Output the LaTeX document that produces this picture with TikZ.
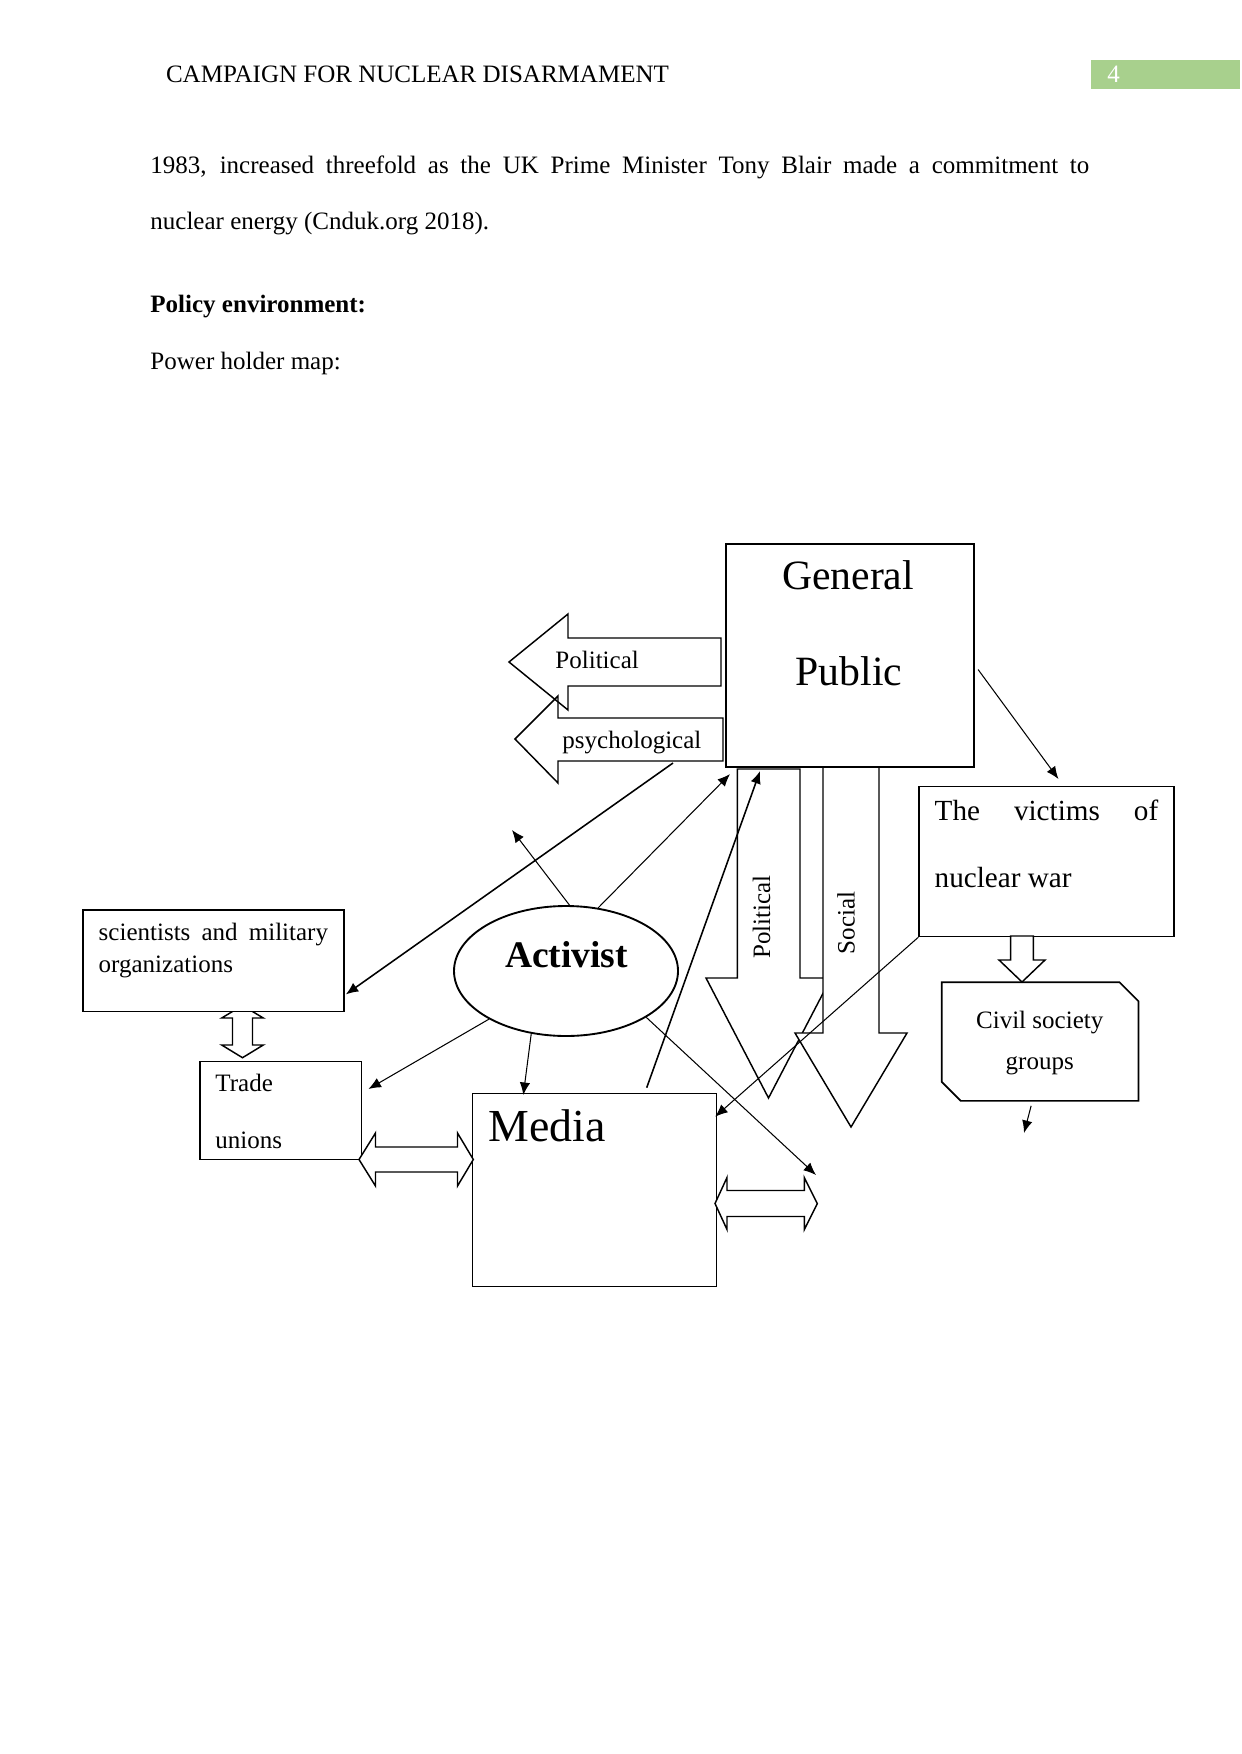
\documentclass[tikz,border=0pt]{standalone}
\usepackage{fontspec}
\setmainfont{Liberation Serif}
\usetikzlibrary{arrows.meta,calc,shapes.geometric}
\definecolor{pagegreen}{HTML}{A8D08D}
\def\pxu{0.47969pt}
\newcommand\fsz[1]{\fontsize{#1}{#1}\selectfont}
\begin{document}
\begin{tikzpicture}[x=0.47969pt,y=-0.47969pt,
  txt/.style={inner sep=0pt, anchor=base west},
  ctxt/.style={inner sep=0pt, anchor=base},
  boxn/.style={draw, line width=0.7pt, fill=white, inner sep=0pt, anchor=north west},
  blk/.style={draw, line width=0.7pt, fill=white, line join=miter},
  blkopen/.style={draw, line width=0.7pt, line join=miter},
  conn/.style={line width=0.5pt, -{Latex[length=6pt,width=5pt]}},
]
\useasboundingbox (0,0) rectangle (1241,1754);

% ---------- header and body text ----------
\node[txt] (hdr) at (165.6,83) {\fsz{12}CAMPAIGN FOR NUCLEAR DISARMAMENT};
\node[fill=pagegreen, inner sep=0pt, anchor=north west, minimum width={149*\pxu}, minimum height={29*\pxu}] (pg) at (1091,60) {};
\node[txt, text=white] (pgn) at (1107,83) {\fsz{12}4};

\node[txt] (l1) at (150,174) {\fsz{12}\makebox[450.4pt][s]{1983, increased threefold as the UK Prime Minister Tony Blair made a commitment to}};
\node[txt] (l2) at (150,230) {\fsz{12}nuclear energy (Cnduk.org 2018).};
\node[txt] (l3) at (150,312.7) {\fsz{12}\bfseries Policy environment:};
\node[txt] (l4) at (150,370) {\fsz{12}Power holder map:};

% ---------- vertical double arrow scientists <-> trade unions ----------
\draw[blk] (232.5,1018) -- (221.7,1018) -- (242.5,1005.5) -- (263.3,1018) -- (252.5,1018)
  -- (252.5,1045) -- (263.3,1045) -- (242.5,1057.7) -- (221.7,1045) -- (232.5,1045) -- cycle;

% ---------- scientists box ----------
\node[boxn, minimum width={261*\pxu}, minimum height={101.7*\pxu}] (sci) at (82.3,909.3) {};
\node[txt] at (98.3,940) {\fsz{12}\makebox[110.0pt][s]{scientists and military}};
\node[txt] at (98.3,972.7) {\fsz{12}organizations};

% ---------- vertical block arrows ----------
\draw[blk] (737.3,769) -- (800,769) -- (800,978) -- (831,978) -- (768.5,1098) -- (706,978) -- (737.3,978) -- cycle;
\draw[blk] (823,767) -- (879,767) -- (879,1033) -- (907,1033) -- (851,1127) -- (795,1033) -- (823,1033) -- cycle;
\node[inner sep=0pt, rotate=90] (tpol) at (761.5,917) {\fsz{12}Political};
\node[inner sep=0pt, rotate=90] (tsoc) at (846,923) {\fsz{12}Social};

% ---------- General Public ----------
\node[boxn, line width=1pt, minimum width={248*\pxu}, minimum height={223*\pxu}] (gp) at (725,543) {};
\node[ctxt] at (848,589) {\fsz{20}General};
\node[ctxt] at (849,685) {\fsz{20}Public};

% ---------- left block arrows ----------
\draw[blkopen] (721,638) -- (568,638) -- (568,614) -- (509,662) -- (568,710) -- (568,686) -- (721,686) -- cycle;
\draw[blkopen] (723,718) -- (558,718) -- (558,696) -- (515,739) -- (558,783) -- (558,761) -- (723,761) -- cycle;
\node[txt] at (555,668.3) {\fsz{12}Political};
\node[txt] at (562,748.3) {\fsz{12}psychological};

% ---------- victims ----------
\node[boxn, line width=0.6pt, minimum width={255*\pxu}, minimum height={150*\pxu}] (vic) at (918.3,786) {};
\node[txt] at (934.3,820.7) {\fsz{14}\makebox[107.2pt][s]{The victims of}};
\node[txt] at (934.3,887.3) {\fsz{14}nuclear war};
\draw[blk] (1010.7,936) -- (1010.7,960) -- (999,960) -- (1022,982) -- (1045,960) -- (1033.3,960) -- (1033.3,936) -- cycle;

% ---------- civil society ----------
\node[inner sep=0pt, anchor=north west, minimum width={196*\pxu}, minimum height={117.7*\pxu}] (civ) at (941.7,982.3) {};
\draw[line width=0.8pt, line join=miter] (civ.north west) -- ($(civ.north east)+(-19,0)$) -- ($(civ.north east)+(0,19)$)
  -- (civ.south east) -- ($(civ.south west)+(19,0)$) -- ($(civ.south west)+(0,-19)$) -- cycle;
\node[ctxt] at (1039.7,1028.3) {\fsz{12}Civil society};
\node[ctxt] at (1039.7,1069) {\fsz{12}groups};

% ---------- trade unions ----------
\node[boxn, minimum width={161.7*\pxu}, minimum height={98*\pxu}] (trade) at (199.3,1061) {};
\node[txt] at (215,1091.7) {\fsz{12}Trade};
\node[txt] at (215,1148.3) {\fsz{12}unions};

% ---------- media ----------
\node[boxn, minimum width={244*\pxu}, minimum height={193.3*\pxu}] (media) at (471.7,1092.7) {};
\node[txt] at (488,1141.7) {\fsz{22}Media};

% ---------- horizontal double arrows ----------
\draw[blk] (359,1159.5) -- (375.5,1133) -- (375.5,1147) -- (457.5,1147) -- (457.5,1133) -- (473.3,1159.5)
  -- (457.5,1186) -- (457.5,1172) -- (375.5,1172) -- (375.5,1186) -- cycle;
\draw[blk] (715,1203.5) -- (727,1177.5) -- (727,1190.5) -- (804.3,1190.5) -- (804.3,1177.5) -- (817.3,1203.5)
  -- (804.3,1229.5) -- (804.3,1216.5) -- (727,1216.5) -- (727,1229.5) -- cycle;

% ---------- activist ----------
\node[draw, ellipse, line width=0.9pt, fill=white, inner sep=0pt, minimum width={224*\pxu}, minimum height={130*\pxu}] (act) at (566,971) {};
\node[ctxt] at (566.5,967) {\fsz{18}\bfseries Activist};

% ---------- connectors ----------
\coordinate (psyb) at (673,763);
\coordinate (freeul) at (512,830);
\coordinate (freelr) at (816,1175);
\coordinate (freecv) at (1024,1133);

\draw[conn, line width=0.75pt] (psyb) -- ($(sci.south east)+(1,-18)$);
\draw[conn] (act.87) -- (freeul);
\draw[conn] (act.63) -- ($(gp.south west)+(5,6)$);
\draw[conn, line width=0.75pt] ($(media.north west)+(175,-5)$) -- ($(gp.south west)+(35,3)$);
\draw[conn] (act.-119) -- ($(media.north west)+(51.6,2.3)$);
\draw[conn] (act.212.8) -- ($(trade.north east)+(6,28)$);
\draw[conn] (vic.south west) -- ($(media.north east)+(-2,24)$);
\draw[conn] (act.-30) -- (freelr);
\draw[conn] ($(gp.east)+(3,14)$) -- ($(vic.north)+(12,-7)$);
\draw[conn] ($(civ.south)+(-9,5)$) -- (freecv);
\end{tikzpicture}
\end{document}
